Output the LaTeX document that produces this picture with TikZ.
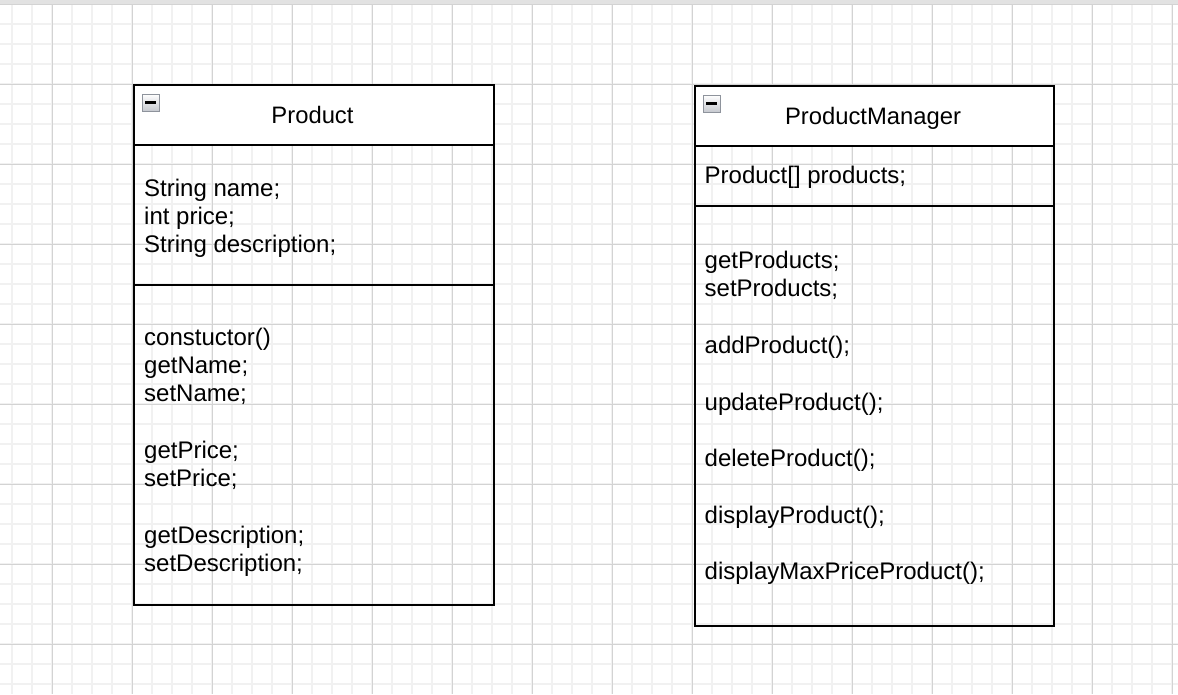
\documentclass[tikz,border=0pt]{standalone}
\usepackage{fontspec}
\setmainfont{Liberation Sans}
\definecolor{gridminor}{HTML}{F1F1F1}
\definecolor{gridmajor}{HTML}{D3D3D3}
\definecolor{topbar}{HTML}{E2E2E2}
\definecolor{iconborder}{HTML}{8E939C}
\definecolor{iconbottom}{HTML}{C6C9CF}
\begin{document}
\begin{tikzpicture}[x=1pt,y=-1pt,
  umlhead/.style={draw, line width=2pt, fill=white, anchor=north west, inner sep=0pt},
  comp/.style={draw, line width=2pt, anchor=north west, inner sep=0pt},
  txt/.style={anchor=base west, inner sep=0pt, font=\fontsize{24}{28}\selectfont},
  classtitle/.style={anchor=base, inner sep=0pt, font=\fontsize{23.8}{28}\selectfont},
  minusicon/.style={draw=iconborder, line width=1pt, top color=white, bottom color=iconbottom, minimum size=17pt, inner sep=0pt},
  minusbar/.style={line width=2.8pt}]
\useasboundingbox (0,0) rectangle (1178,694);
\fill[white] (0,0) rectangle (1178,694);
% grid
\foreach \gx in {12,32,...,1172} \draw[gridminor, line width=1.5pt] (\gx,0) -- (\gx,694);
\foreach \gy in {4,24,...,684} \draw[gridminor, line width=1.5pt] (0,\gy) -- (1178,\gy);
\foreach \gx in {52,132,...,1172} \draw[gridmajor, line width=1pt] (\gx,0) -- (\gx,694);
\foreach \gy in {4,84,...,644} \draw[gridmajor, line width=1pt] (0,\gy) -- (1178,\gy);
\fill[topbar] (0,0) rectangle (1178,3.5);

% Product class
\node[umlhead, minimum width=360pt, minimum height=60pt] (Phead) at (132.5,84) {};
\node[comp, minimum width=360pt, minimum height=140pt] (Pattr) at (132.5,144) {};
\node[comp, minimum width=360pt, minimum height=320pt] (Pmeth) at (132.5,284) {};
\node[minusicon] (Picon) at (150.5,102.5) {};
\draw[minusbar] ([xshift=3.5pt]Picon.west) -- ([xshift=-3.5pt]Picon.east);
\node[classtitle] (Ptitle) at (312.5,123.3) {Product};
\node[txt] (Pa1) at (144,196) {String name;};
\node[txt] (Pa2) at (144,224.3) {int price;};
\node[txt] (Pa3) at (144,252.6) {String description;};
\node[txt] (Pm1) at (144,345) {constuctor()};
\node[txt] (Pm2) at (144,373.3) {getName;};
\node[txt] (Pm3) at (144,401.6) {setName;};
\node[txt] (Pm4) at (144,458.2) {getPrice;};
\node[txt] (Pm5) at (144,486.5) {setPrice;};
\node[txt] (Pm6) at (144,543.1) {getDescription;};
\node[txt] (Pm7) at (144,571.4) {setDescription;};

% ProductManager class
\node[umlhead, minimum width=359pt, minimum height=60pt] (Mhead) at (693.5,85) {};
\node[comp, minimum width=359pt, minimum height=60pt] (Mattr) at (693.5,145) {};
\node[comp, minimum width=359pt, minimum height=420pt] (Mmeth) at (693.5,205) {};
\node[minusicon] (Micon) at (711.5,103.5) {};
\draw[minusbar] ([xshift=3.5pt]Micon.west) -- ([xshift=-3.5pt]Micon.east);
\node[classtitle] (Mtitle) at (873,124.5) {ProductManager};
\node[txt] (Ma1) at (704.5,183) {Product[] products;};
\node[txt] (Mm1) at (704.5,268.5) {getProducts;};
\node[txt] (Mm2) at (704.5,296.8) {setProducts;};
\node[txt] (Mm3) at (704.5,353.4) {addProduct();};
\node[txt] (Mm4) at (704.5,410) {updateProduct();};
\node[txt] (Mm5) at (704.5,466.6) {deleteProduct();};
\node[txt] (Mm6) at (704.5,523.2) {displayProduct();};
\node[txt] (Mm7) at (704.5,579.8) {displayMaxPriceProduct();};
\end{tikzpicture}
\end{document}
